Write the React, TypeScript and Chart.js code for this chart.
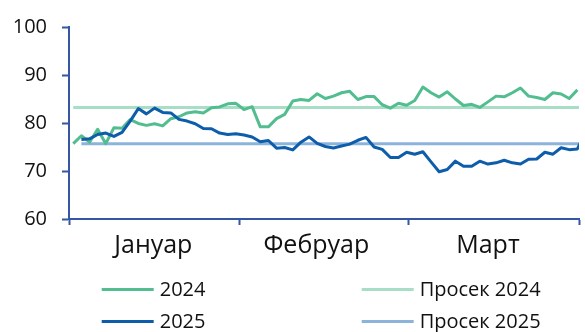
import React, { useEffect, useRef } from "react";
import { Chart, registerables } from "chart.js";

Chart.register(...registerables);

// ---- data (trading-day index on x) ----
const MONTHS = ["Јануар", "Фебруар", "Март"];
const Y_TICKS = [60, 70, 80, 90, 100];

const SERIES_2024 = [
  75.7, 77.35, 76.0, 78.7, 75.7, 79.0, 78.9, 80.7, 79.9, 79.5,
  79.85, 79.4, 80.9, 81.3, 82.1, 82.35, 82.1, 83.2, 83.35, 84.0,
  84.1, 82.8, 83.4, 79.2, 79.2, 80.9, 81.8, 84.6, 84.9, 84.7,
  86.1, 85.1, 85.6, 86.3, 86.6, 84.9, 85.5, 85.5, 83.8, 83.1,
  84.1, 83.7, 84.7, 87.5, 86.3, 85.4, 86.5, 85.0, 83.65, 83.9,
  83.25, 84.4, 85.6, 85.45, 86.3, 87.3, 85.6, 85.3, 84.9, 86.3,
  86.05, 85.1, 86.9,
];
const START_2024 = 0;

const SERIES_2025 = [
  76.55, 76.7, 77.6, 77.9, 77.2, 78.05, 80.4, 83.0, 81.9, 83.1,
  82.2, 82.1, 80.75, 80.4, 79.85, 78.85, 78.8, 77.9, 77.6, 77.75,
  77.5, 77.1, 76.1, 76.35, 74.75, 74.9, 74.4, 76.0, 77.1, 75.75,
  75.1, 74.8, 75.2, 75.6, 76.4, 77.0, 75.0, 74.5, 72.8, 72.8,
  73.9, 73.5, 74.0, 71.9, 69.85, 70.3, 72.05, 71.0, 71.0, 72.05,
  71.45, 71.7, 72.25, 71.7, 71.45, 72.45, 72.5, 73.9, 73.5, 74.85,
  74.45, 74.6, 78.0,
];
const START_2025 = 1;

const AVG_2024 = 83.25;
const AVG_2025 = 75.7;

const LABELS = ["2024", "2025", "Просек 2024", "Просек 2025"];

// axis geometry in index units
const X_MIN = -0.523;
const X_MAX = 62.2;
const MONTH_BOUNDS = [X_MIN, 20.39, 41.21, X_MAX];
const MONTH_CENTERS = [9.85, 29.9, 51.0];

const C_2024 = "#52BE90";
const C_2025 = "#0D5DAB";
const C_AVG24 = "#A9DEC6";
const C_AVG25 = "#8CB3DA";
const AXIS = "#3556A3";
const FONT = "'Open Sans', 'Noto Sans', sans-serif";

const legendPlugin = {
  id: "gridLegend",
  afterDraw(chart: any) {
    const ctx = chart.ctx;
    const cols = [101.7, 361.7];
    const rows = [289.5, 321.5];
    const order = [0, 1, 2, 3];
    ctx.save();
    order.forEach((dsIndex, k) => {
      const ds = chart.data.datasets[dsIndex];
      const x = cols[Math.floor(k / 2)];
      const y = rows[k % 2];
      ctx.strokeStyle = ds.borderColor;
      ctx.lineWidth = 3;
      ctx.beginPath();
      ctx.moveTo(x, y);
      ctx.lineTo(x + 52, y);
      ctx.stroke();
      ctx.fillStyle = "#111";
      ctx.font = `20px ${FONT}`;
      ctx.textBaseline = "middle";
      ctx.textAlign = "left";
      ctx.fillText(ds.label, x + 58, y + 1);
    });
    ctx.restore();
  },
};

export default function App() {
  const ref = useRef<HTMLCanvasElement | null>(null);

  useEffect(() => {
    if (!ref.current) return;
    const pts = (arr: number[], start: number) =>
      arr.map((v, i) => ({ x: start + i, y: v }));
    const lastX = Math.max(
      START_2024 + SERIES_2024.length - 1,
      START_2025 + SERIES_2025.length - 1
    );
    const chart = new Chart(ref.current, {
      type: "line",
      data: {
        datasets: [
          {
            label: LABELS[0],
            data: pts(SERIES_2024, START_2024),
            borderColor: C_2024,
            borderWidth: 3,
            pointRadius: 0,
            order: 1,
          },
          {
            label: LABELS[1],
            data: pts(SERIES_2025, START_2025),
            borderColor: C_2025,
            borderWidth: 3,
            pointRadius: 0,
            order: 0,
          },
          {
            label: LABELS[2],
            data: [
              { x: START_2024, y: AVG_2024 },
              { x: lastX, y: AVG_2024 },
            ],
            borderColor: C_AVG24,
            borderWidth: 3,
            pointRadius: 0,
            order: 3,
          },
          {
            label: LABELS[3],
            data: [
              { x: START_2025, y: AVG_2025 },
              { x: lastX, y: AVG_2025 },
            ],
            borderColor: C_AVG25,
            borderWidth: 3,
            pointRadius: 0,
            order: 2,
          },
        ],
      },
      options: {
        animation: false,
        responsive: false,
        events: [],
        layout: { padding: { top: 20, right: 0, bottom: 68, left: 0 } },
        plugins: { legend: { display: false }, tooltip: { enabled: false } },
        elements: { line: { tension: 0, borderJoinStyle: "round" } },
        scales: {
          x: {
            type: "linear",
            min: X_MIN,
            max: X_MAX,
            border: { color: AXIS, width: 2 },
            grid: {
              drawOnChartArea: false,
              drawTicks: true,
              tickLength: 6,
              tickWidth: 2,
              tickColor: (c: any) => (c.index % 2 === 0 ? AXIS : "rgba(0,0,0,0)"),
            },
            afterBuildTicks: (scale: any) => {
              const vals: number[] = [];
              MONTH_BOUNDS.forEach((b, i) => {
                vals.push(b);
                if (i < MONTH_CENTERS.length) vals.push(MONTH_CENTERS[i]);
              });
              scale.ticks = vals.map((v) => ({ value: v }));
            },
            ticks: {
              autoSkip: false,
              maxRotation: 0,
              padding: 6,
              color: "#111",
              font: { family: FONT, size: 25 },
              callback: (_v: any, i: number) =>
                i % 2 === 1 ? MONTHS[(i - 1) / 2] : "",
            },
            afterFit: (scale: any) => {
              scale.height = 45;
            },
          },
          y: {
            min: Y_TICKS[0],
            max: Y_TICKS[Y_TICKS.length - 1],
            border: { color: AXIS, width: 2 },
            grid: {
              drawOnChartArea: false,
              tickLength: 7,
              tickWidth: 2,
              tickColor: AXIS,
            },
            afterBuildTicks: (scale: any) => {
              scale.ticks = Y_TICKS.map((v) => ({ value: v }));
            },
            ticks: {
              padding: 15,
              color: "#111",
              font: { family: FONT, size: 20 },
            },
            afterFit: (scale: any) => {
              scale.width = 69;
            },
          },
        },
      },
      plugins: [legendPlugin],
    });
    return () => chart.destroy();
  }, []);

  return (
    <div style={{ position: "fixed", left: 0, top: 0, width: 585, height: 332, background: "#fff" }}>
      <canvas ref={ref} width={585} height={332} style={{ display: "block" }} />
    </div>
  );
}
